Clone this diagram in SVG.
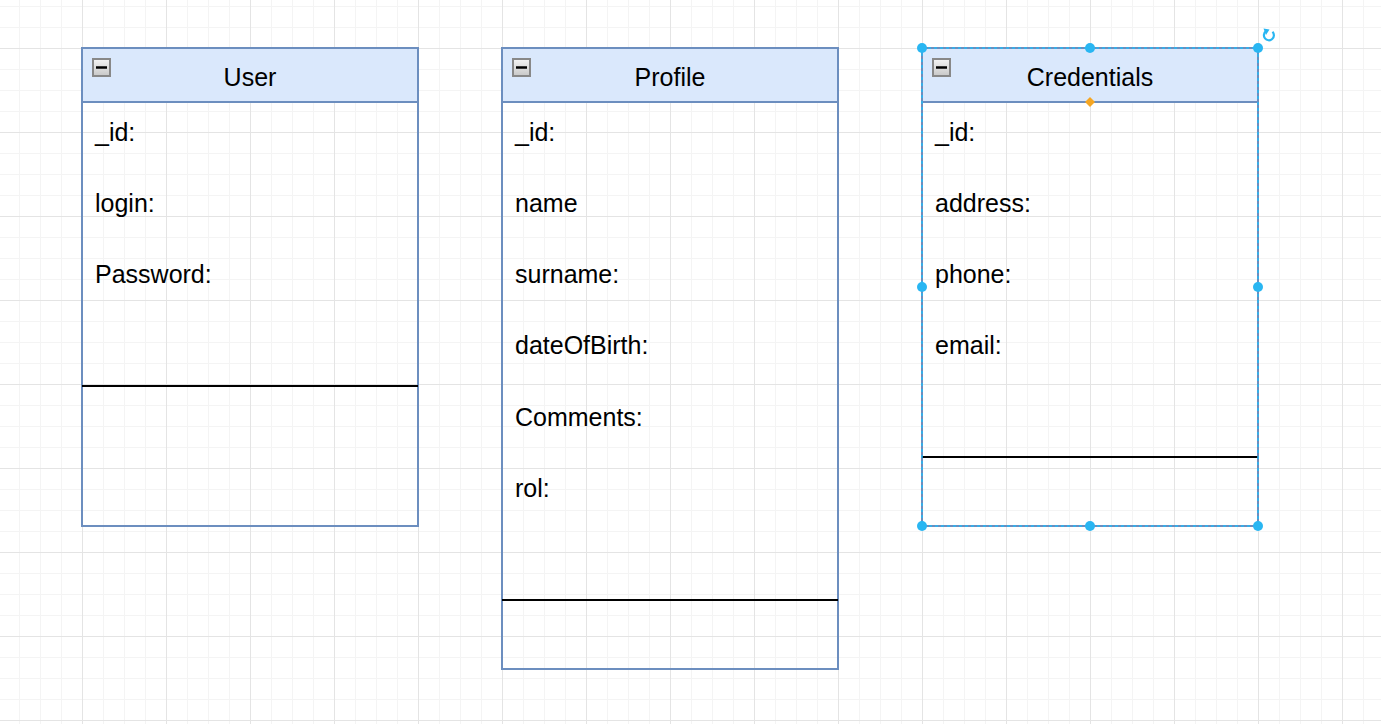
<svg xmlns="http://www.w3.org/2000/svg" width="1381" height="724" viewBox="0 0 1381 724">
<style>
.hdr{fill:#dae8fc;stroke:#6c8ebf;stroke-width:2}
.body{fill:none;stroke:#6c8ebf;stroke-width:2}
.div{stroke:#000;stroke-width:2}
.t{font-family:"Liberation Sans",Arial,sans-serif;font-size:25px;fill:#000}
.title{text-anchor:middle}
.btn{fill:url(#btnGrad);stroke:#888;stroke-width:2}
.bar{stroke:#000;stroke-width:2.5}
.h{fill:#29b6f2}
</style>
<defs>
<pattern id="grid" patternUnits="userSpaceOnUse" x="82" y="48" width="84" height="84">
<rect width="84" height="84" fill="#fff"/>
<path d="M21.5 0V84M42.5 0V84M63.5 0V84M0 21.5H84M0 42.5H84M0 63.5H84" stroke="#f4f4f4" stroke-width="1"/>
<path d="M0.5 0V84M0 0.5H84" stroke="#e4e4e4" stroke-width="1"/>
</pattern>
<linearGradient id="btnGrad" x1="0" y1="0" x2="0" y2="1">
<stop offset="0" stop-color="#f4f4f4"/>
<stop offset="1" stop-color="#c8c8c8"/>
</linearGradient>
</defs>
<rect width="1381" height="724" fill="url(#grid)"/>

<g id="connectors"></g>

<g id="user">
<rect class="body" x="82" y="48" width="336" height="478"/>
<rect class="hdr" x="82" y="48" width="336" height="54"/>
<rect class="btn" x="93" y="59" width="17" height="17"/>
<line class="bar" x1="96" y1="67.5" x2="107" y2="67.5"/>
<text class="t title" x="250" y="85.5">User</text>
<text class="t" x="95" y="140.7">_id:</text>
<text class="t" x="95" y="211.9">login:</text>
<text class="t" x="95" y="283.1">Password:</text>
<line class="div" x1="82" y1="386" x2="418" y2="386"/>
</g>

<g id="profile">
<rect class="body" x="502" y="48" width="336" height="621"/>
<rect class="hdr" x="502" y="48" width="336" height="54"/>
<rect class="btn" x="513" y="59" width="17" height="17"/>
<line class="bar" x1="516" y1="67.5" x2="527" y2="67.5"/>
<text class="t title" x="670" y="85.5">Profile</text>
<text class="t" x="515" y="140.7">_id:</text>
<text class="t" x="515" y="211.9">name</text>
<text class="t" x="515" y="283.1">surname:</text>
<text class="t" x="515" y="354.3">dateOfBirth:</text>
<text class="t" x="515" y="425.5">Comments:</text>
<text class="t" x="515" y="496.7">rol:</text>
<line class="div" x1="502" y1="600" x2="838" y2="600"/>
</g>

<g id="credentials">
<rect class="body" x="922" y="48" width="336" height="478"/>
<rect class="hdr" x="922" y="48" width="336" height="54"/>
<rect class="btn" x="933" y="59" width="17" height="17"/>
<line class="bar" x1="936" y1="67.5" x2="947" y2="67.5"/>
<text class="t title" x="1090" y="85.5">Credentials</text>
<text class="t" x="935" y="140.7">_id:</text>
<text class="t" x="935" y="211.9">address:</text>
<text class="t" x="935" y="283.1">phone:</text>
<text class="t" x="935" y="354.3">email:</text>
<line class="div" x1="922" y1="457" x2="1258" y2="457"/>
</g>

<g id="selection">
<rect x="922" y="48" width="336" height="478" fill="none" stroke="#29b6f2" stroke-width="1.5" stroke-dasharray="3 3"/>
<circle class="h" cx="922" cy="48" r="5"/>
<circle class="h" cx="1090" cy="48" r="5"/>
<circle class="h" cx="1258" cy="48" r="5"/>
<circle class="h" cx="922" cy="287" r="5"/>
<circle class="h" cx="1258" cy="287" r="5"/>
<circle class="h" cx="922" cy="526" r="5"/>
<circle class="h" cx="1090" cy="526" r="5"/>
<circle class="h" cx="1258" cy="526" r="5"/>
<path d="M1090 97L1095 102L1090 107L1085 102Z" fill="#f5a623"/>
<path d="M1272.5 31.8A5 5 0 1 1 1266 31.2" fill="none" stroke="#29b6f2" stroke-width="2.2"/>
<path d="M1263.5 28.5L1269.5 29.5L1266 35Z" fill="#29b6f2"/>
</g>
</svg>
